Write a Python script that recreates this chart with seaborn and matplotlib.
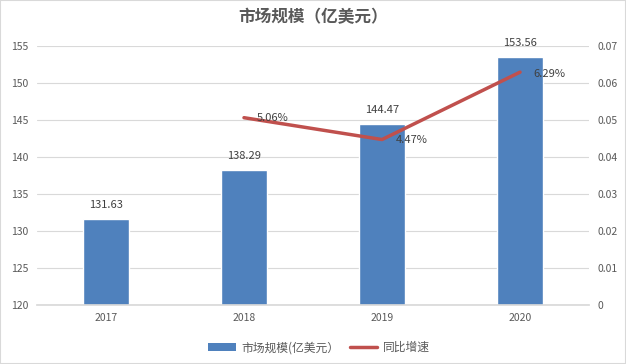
import numpy as np
import pandas as pd
import matplotlib
matplotlib.use('Agg')
import matplotlib.pyplot as plt
import seaborn as sns
from matplotlib.patches import Patch, Rectangle
from matplotlib.lines import Line2D

# Data
years = ['2017', '2018', '2019', '2020']
market_size = [131.63, 138.29, 144.47, 153.56]
growth_years = ['2018', '2019', '2020']
growth_rate = [0.0506, 0.0447, 0.0629]

sns.set_theme(style='white')
plt.rcParams['font.family'] = ['Noto Sans CJK SC', 'DejaVu Sans']

bar_color = '#4F81BD'
line_color = '#C0504D'
text_color = '#595959'

df = pd.DataFrame({'year': years, 'size': market_size})
pos = {y: i for i, y in enumerate(years)}
gdf = pd.DataFrame({'x': [pos[y] for y in growth_years], 'rate': growth_rate})

fig = plt.figure(figsize=(6.26, 3.64), dpi=100)
ax = fig.add_axes([0.059, 0.162, 0.882, 0.712])

sns.barplot(data=df, x='year', y='size', color=bar_color, width=0.33,
            saturation=1, ax=ax, zorder=2)
ax.set_ylim(120, 155)
ax.set_yticks(np.arange(120, 156, 5))
ax.set_xlim(-0.5, 3.5)
ax.set_xlabel('')
ax.set_ylabel('')
ax.grid(axis='y', color='#D9D9D9', linewidth=0.8, zorder=0)
ax.set_axisbelow(True)
for s in ax.spines.values():
    s.set_visible(False)
ax.spines['bottom'].set_visible(True)
ax.spines['bottom'].set_color('#D9D9D9')
ax.tick_params(axis='both', length=0, labelsize=7.5, labelcolor=text_color, pad=6)

for i, v in enumerate(market_size):
    ax.text(i, v + 1.2, f'{v:.2f}', ha='center', va='bottom', fontsize=8, color='#404040')

ax2 = ax.twinx()
sns.lineplot(data=gdf, x='x', y='rate', color=line_color, linewidth=2.5, ax=ax2)
ax2.set_ylim(0, 0.07)
ax2.set_yticks(np.arange(0, 0.071, 0.01))
ax2.set_yticklabels(['0'] + [f'{t:.2f}' for t in np.arange(0.01, 0.071, 0.01)])
ax2.set_xlim(-0.5, 3.5)
ax2.set_xlabel('')
ax2.set_ylabel('')
for s in ax2.spines.values():
    s.set_visible(False)
ax2.tick_params(axis='y', length=0, labelsize=7.5, labelcolor=text_color, pad=6)

offsets = [(0.09, 0.0, 'center'), (0.1, -0.0002, 'center'), (0.1, -0.0005, 'center')]
for (x, r), (dx, dy, va) in zip(zip(gdf['x'], growth_rate), offsets):
    ax2.text(x + dx, r + dy, f'{r*100:.2f}%', ha='left', va=va, fontsize=8, color='#404040')

fig.text(0.5, 0.953, '市场规模（亿美元）', ha='center', va='center',
         fontsize=12, fontweight='bold', color=text_color)

handles = [Patch(facecolor=bar_color, edgecolor='none'),
           Line2D([0], [0], color=line_color, linewidth=2.5)]
fig.legend(handles, ['市场规模(亿美元）', '同比增速'], loc='center',
           bbox_to_anchor=(0.51, 0.045), ncol=2, frameon=False, fontsize=8.5,
           handlelength=2.3, handleheight=0.6, handletextpad=0.5,
           columnspacing=0.9, labelcolor=text_color)

fig.patches.append(Rectangle((0, 0), 1, 1, transform=fig.transFigure,
                             fill=False, edgecolor='#D9D9D9', linewidth=1.5))

fig.savefig('out.png', dpi=100)
